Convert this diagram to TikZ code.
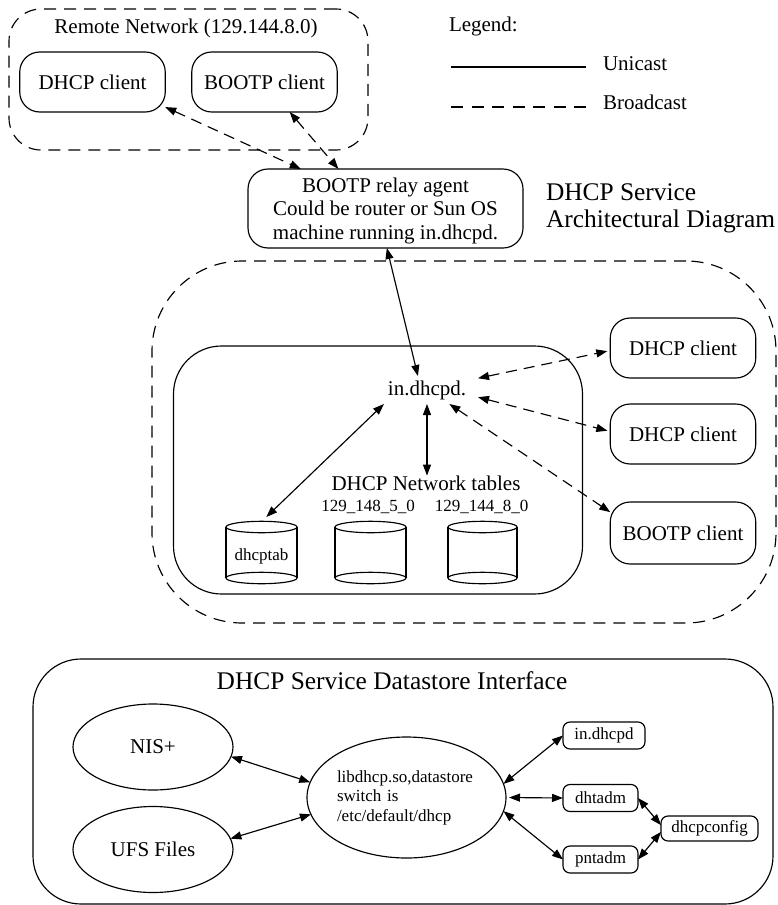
\documentclass[tikz,border=0pt]{standalone}
\usepackage{fontspec}
\setmainfont{Liberation Serif}
\usetikzlibrary{arrows.meta,shapes.geometric}
\newcommand{\bodysize}{\fontsize{21}{23.5}\selectfont}
\newcommand{\smallsize}{\fontsize{17}{19.5}\selectfont}
\newcommand{\titlesize}{\fontsize{25.4}{27}\selectfont}
\tikzset{
    every node/.style={inner sep=0pt, outer sep=0pt, font=\bodysize},
    every path/.style={line width=1.15pt},
    >={Triangle[length=11pt,width=8pt]},
    hostbox/.style={draw, rounded corners=20pt, minimum width=145.5, minimum height=60},
    toolbox/.style={draw, rounded corners=7pt, font=\smallsize, minimum height=27},
    zonebox/.style={draw, dash pattern=on 12pt off 8pt},
    storeoval/.style={draw, ellipse, minimum width=160, minimum height=86},
    link/.style={<->},
    bcast/.style={<->, dash pattern=on 11pt off 7pt},
}
\begin{document}
\begin{tikzpicture}[x=1pt,y=-1pt]
    \useasboundingbox (0,0) rectangle (778,905);
    \node (remote) at (188.5,79.5) [zonebox, rounded corners=32pt, minimum width=359, minimum height=141] {};
    \node at (186,28) {Remote Network (129.144.8.0)};
    \node (rdhcp) at (92.5,82) [hostbox] {DHCP client};
    \node (rbootp) at (264.5,82) [hostbox] {BOOTP client};

    \node (legend) at (449,26) [anchor=west] {Legend:};
    \coordinate (uniA) at (451,67);
    \coordinate (uniB) at (586,67);
    \coordinate (broadA) at (451,107);
    \coordinate (broadB) at (586,107);
    \draw (uniA) -- (uniB);
    \draw[dash pattern=on 12pt off 8.5pt] (broadA) -- (broadB);
    \node (unicast) at (603,64) [anchor=west] {Unicast};
    \node (broadcast) at (603,102) [anchor=west] {Broadcast};

    \node (relay) at (385.5,208.5) [draw, rounded corners=20pt, minimum width=275, minimum height=79, align=center]
        {\rule{0pt}{19pt}BOOTP relay agent\\Could be router or Sun OS\\machine running in.dhcpd.};
    \node (title) at (546,208.5) [anchor=west, align=left, font=\titlesize] {DHCP Service\\Architectural Diagram};

    \node (subnet) at (464,442) [zonebox, rounded corners=90pt, minimum width=624, minimum height=362] {};
    \node (server) at (378,470) [draw, rounded corners=48pt, minimum width=409, minimum height=248] {};
    \node (dhcpd) at (427,390) [minimum width=102, minimum height=28] {in.dhcpd.};
    \node (cdhcpA) at (683,348) [hostbox] {DHCP client};
    \node (cdhcpB) at (683,434) [hostbox] {DHCP client};
    \node (cbootp) at (683,533) [hostbox, minimum height=62] {BOOTP client};
    \node (tables) at (426,483) {DHCP Network tables};
    \node (tableA) at (368,507) [font=\smallsize] {129\_148\_5\_0};
    \node (tableB) at (481.5,507) [font=\smallsize] {129\_144\_8\_0};

    \foreach \db/\cx/\rx/\lbl in {dbtab/261.5/35.5/dhcptab, dbnetA/370.5/35.5/{}, dbnetB/482.5/34.5/{}} {
        \node (\db) at (\cx,556) [font=\smallsize, minimum width=71, minimum height=78] {\lbl};
        \draw (\cx,527) ellipse [x radius=\rx, y radius=5.7];
        \draw (\cx,578) ellipse [x radius=\rx, y radius=5.7];
        \draw (\cx-\rx,527) -- (\cx-\rx,578);
        \draw (\cx+\rx,527) -- (\cx+\rx,578);
    }

    \draw[bcast] (rdhcp.-19) -- (relay.155);
    \draw[bcast] (rbootp.-50) -- (relay.140);
    \draw[link] (relay.-88) -- (dhcpd.123);
    \draw[link] (dhcpd.-162) -- (dbtab.83);
    \draw[link] (dhcpd.south) -- (tables.north -| dhcpd.south);
    \draw[bcast, shorten >=3pt] (dhcpd.13) -- (cdhcpA.-178);
    \draw[bcast, shorten >=3pt] (dhcpd.-8) -- (cdhcpB.178);
    \draw[bcast] (dhcpd.-32) -- (cbootp.164);

    \node (store) at (403,781.5) [draw, rounded corners=48pt, minimum width=740, minimum height=245] {};
    \node (storetitle) at (392,681) [font=\titlesize] {DHCP Service Datastore Interface};
    \node (nis) at (153,747) [storeoval] {NIS+};
    \node (ufs) at (153,849.5) [storeoval] {UFS Files};
    \node (lib) at (406.5,797.5) [draw, ellipse, minimum width=199, minimum height=121, font=\smallsize, text width=139, align=left]
        {libdhcp.so,datastore\\switch is\\/etc/default/dhcp};
    \node (indhcpd) at (604,735.5) [toolbox, minimum width=82] {in.dhcpd};
    \node (dhtadm) at (600.5,798) [toolbox, minimum width=75] {dhtadm};
    \node (pntadm) at (600.5,859.5) [toolbox, minimum width=75] {pntadm};
    \node (config) at (709.5,828.5) [toolbox, minimum width=97, minimum height=25] {dhcpconfig};

    \draw[link] (nis.-7) -- (lib.171);
    \draw[link] (ufs.8) -- (lib.-170);
    \draw[link] (lib.8) -- (indhcpd.west);
    \draw[link, shorten <=3pt] (lib.east) -- (dhtadm.west);
    \draw[link] (lib.-8) -- (pntadm.west);
    \draw[link] (dhtadm.east) -- (config.176);
    \draw[link] (pntadm.east) -- (config.-176);
\end{tikzpicture}
\end{document}
